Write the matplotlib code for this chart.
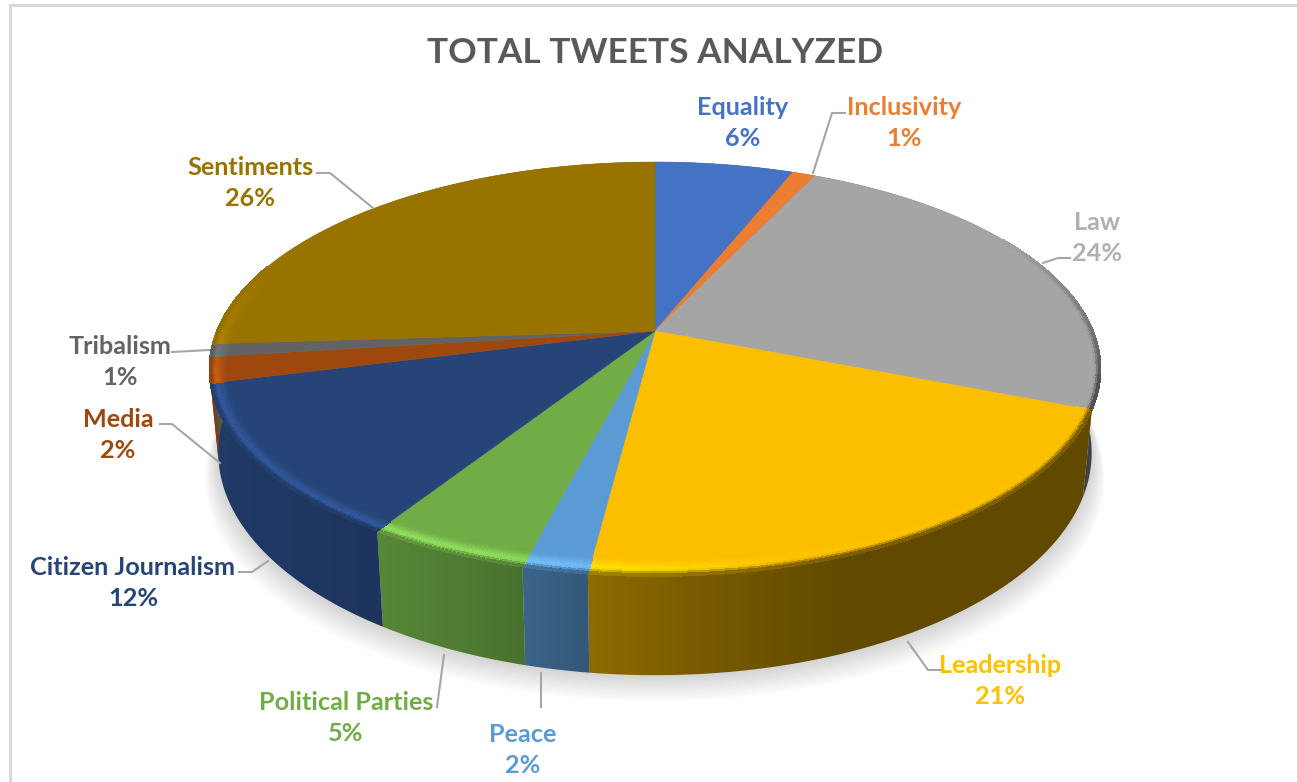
import numpy as np
import matplotlib
matplotlib.use('Agg')
import matplotlib.pyplot as plt
from matplotlib.collections import PolyCollection
from matplotlib.colors import to_rgb
from matplotlib.patches import Polygon

plt.rcParams['font.family'] = ['Lato', 'DejaVu Sans']

categories = ['Equality', 'Inclusivity', 'Law', 'Leadership', 'Peace',
              'Political Parties', 'Citizen Journalism', 'Media', 'Tribalism', 'Sentiments']
shares = [6, 1, 24, 21, 2, 5, 12, 2, 1, 26]
colors = ['#4472c4', '#ed7d31', '#a5a5a5', '#fbbe00', '#5b9bd5',
          '#70ad47', '#264478', '#9e480e', '#636363', '#997300']
text_colors = ['#4472c4', '#ed7d31', '#b0b0b0', '#ffc000', '#5b9bd5',
               '#70ad47', '#264478', '#9e480e', '#636363', '#997300']

W, H = 1297, 782
# pie geometry in pixels, K is the perspective strength
CX, CY = 655, 331
RX, RY = 438, 200
K = 0.1836
DEPTH = 81
SHRINK = 0.02
BEVEL = 16


def project(theta, z=0.0):
    # theta in degrees, clockwise from twelve o'clock
    t = np.radians(theta)
    u = np.sin(t)
    v = np.cos(t)
    w = 1 + K * v
    x = CX + RX * u * (1 - SHRINK * z) / w
    y = CY + (-RY * v + DEPTH * z) / w
    return x, y


def bevel_point(theta, level):
    # point on the ray from the centre to the rim, level 1 is the rim itself
    x, y = project(theta)
    dist = np.hypot(x - CX, y - CY)
    s = 1 - BEVEL * (1 - level) / dist
    return CX + s * (x - CX), CY + s * (y - CY)


def side_shade(x):
    return np.interp(x, [210, 380, 500, 575, 700, 840, 1090],
                     [0.85, 0.78, 0.68, 0.58, 0.48, 0.39, 0.39])


def mix(a, b, t):
    return tuple((1 - t) * np.array(a) + t * np.array(b))


fig = plt.figure(figsize=(W / 100, H / 100), dpi=100)
ax = fig.add_axes([0, 0, 1, 1])

# chart frame
ax.plot([9.5, 9.5, W], [H, 5.3, 5.3], color='#d9d9d9', lw=2.2, solid_joinstyle='miter')

# soft shadow under the pie
ring = np.linspace(0, 360, 361)
for i in range(1, 15):
    sx, sy = project(ring, z=1)
    sx = CX + (sx - CX) * (1 + 0.0022 * i)
    ax.add_patch(Polygon(np.c_[sx, sy + 1.9 * i], closed=True, fc='black', ec='none',
                         alpha=0.01, zorder=1))

edges = np.concatenate([[0], np.cumsum(shares)]) / np.sum(shares) * 360

# outer wall, a horizontal gradient clipped to each slice
xs = np.arange(W)
for c, a0, a1 in zip(colors, edges[:-1], edges[1:]):
    th = np.linspace(a0, a1, 120)
    x0, y0 = project(th)
    x1, y1 = project(th[::-1], z=1)
    wall = Polygon(np.r_[np.c_[x0, y0], np.c_[x1, y1]], closed=True, transform=ax.transData)
    grad = np.outer(side_shade(xs), to_rgb(c)).reshape(1, W, 3)
    img = ax.imshow(grad, extent=(0, W, H, 0), aspect='auto', zorder=2, interpolation='bilinear')
    img.set_clip_path(wall)

# flat top of every slice
for c, a0, a1 in zip(colors, edges[:-1], edges[1:]):
    th = np.linspace(a0, a1, 80)
    x, y = project(th)
    ax.add_patch(Polygon(np.r_[[(CX, CY)], np.c_[x, y]], closed=True, fc=c, ec=c,
                         lw=0.4, zorder=3))

# bevel along the front rim
levels = np.linspace(0, 1, 9)
for c, a0, a1 in zip(colors, edges[:-1], edges[1:]):
    lo, hi = max(a0, 60), min(a1, 290)
    if lo >= hi:
        continue
    base = to_rgb(c)
    th = np.arange(lo, hi + 0.5, 0.5)
    th[-1] = hi
    verts, cols = [], []
    for p, q in zip(th[:-1], th[1:]):
        mid = (p + q) / 2
        strength = np.interp(mid, [60, 90, 105, 258, 272, 290], [0, 0.6, 1, 1, 0.3, 0])
        glow = np.interp(mid, [100, 165, 190, 200, 290], [0, 0.03, 0.25, 0.32, 0.3])
        dark = tuple(np.array(base) * side_shade(project(mid)[0]))
        bright = tuple(np.clip(np.array(base) * (1 + glow), 0, 1))
        for s, e in zip(levels[:-1], levels[1:]):
            quad = [bevel_point(p, s), bevel_point(q, s), bevel_point(q, e), bevel_point(p, e)]
            tm = (s + e) / 2
            if tm < 0.65:
                col = mix(base, bright, tm / 0.65)
            else:
                col = mix(bright, dark, (tm - 0.65) / 0.35)
            verts.append(quad)
            cols.append(mix(base, col, strength))
    ax.add_collection(PolyCollection(verts, facecolors=cols, edgecolors=cols, linewidths=0.6,
                                     antialiaseds=False, zorder=4))

# leader lines
leaders = {
    'Inclusivity': [(813, 173), (832, 113), (845, 113)],
    'Law': [(1043, 263), (1058, 258), (1070, 258)],
    'Leadership': [(908, 642), (928, 670), (940, 670)],
    'Peace': [(541, 673), (541, 707)],
    'Political Parties': [(444, 655), (437, 707)],
    'Citizen Journalism': [(268, 561), (252, 572), (239, 572)],
    'Media': [(220, 463), (172, 424), (160, 424)],
    'Tribalism': [(209, 350), (172, 352)],
    'Sentiments': [(373, 208), (330, 173), (317, 173)],
}
for pts in leaders.values():
    ax.plot(*zip(*pts), color='#a6a6a6', lw=1.5, zorder=5)

# labels, name over percentage
label_xy = [(743, 123), (904, 123), (1097, 238), (1000, 681), (523, 750),
            (346, 718), (133, 583), (118, 435), (120, 362), (250, 183)]
for name, share, col, (lx, ly) in zip(categories, shares, text_colors, label_xy):
    ax.text(lx, ly, f'{name}\n{share}%', color=col, fontsize=18.2, fontweight='bold',
            ha='center', va='center', linespacing=1.45, zorder=6)

ax.text(655, 53, 'TOTAL TWEETS ANALYZED', color='#595959', fontsize=25.4, fontweight='bold',
        ha='center', va='center', zorder=6)

ax.set_xlim(0, W)
ax.set_ylim(H, 0)
ax.axis('off')

fig.savefig('out.png', dpi=100, facecolor='white')
